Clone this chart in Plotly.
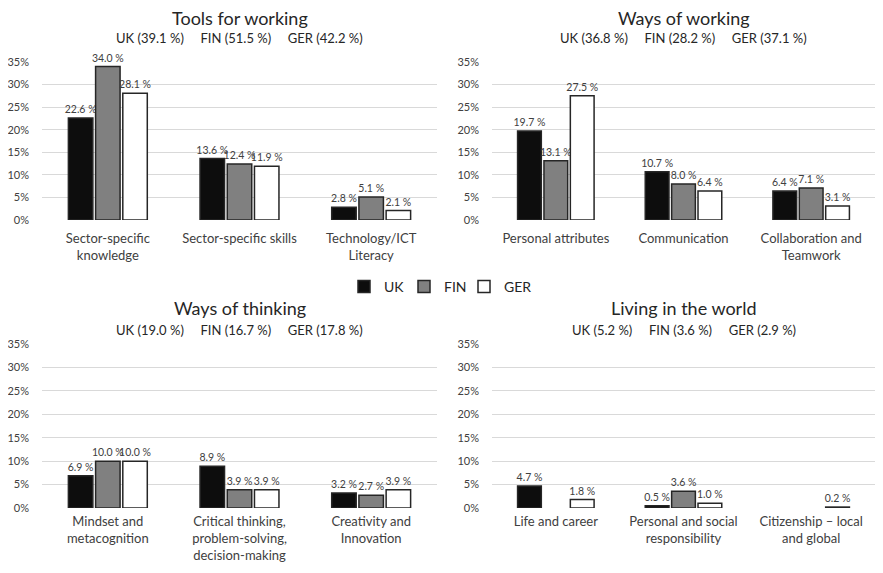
import plotly.graph_objects as go
from plotly.subplots import make_subplots

countries = ["UK", "FIN", "GER"]
colors = ["#0d0d0d", "#808080", "#ffffff"]

panel_titles = ["Tools for working", "Ways of working", "Ways of thinking", "Living in the world"]
panel_totals = [
    [39.1, 51.5, 42.2],
    [36.8, 28.2, 37.1],
    [19.0, 16.7, 17.8],
    [5.2, 3.6, 2.9],
]
panel_cats = [
    ["Sector-specific<br>knowledge", "Sector-specific skills", "Technology/ICT<br>Literacy"],
    ["Personal attributes", "Communication", "Collaboration and<br>Teamwork"],
    ["Mindset and<br>metacognition", "Critical thinking,<br>problem-solving,<br>decision-making", "Creativity and<br>Innovation"],
    ["Life and career", "Personal and social<br>responsibility", "Citizenship – local<br>and global"],
]
# values per panel: [UK, FIN, GER] per category; None = no bar
uk_vals = [
    [22.6, 13.6, 2.8],
    [19.7, 10.7, 6.4],
    [6.9, 8.9, 3.2],
    [4.7, 0.5, None],
]
fin_vals = [
    [34.0, 12.4, 5.1],
    [13.1, 8.0, 7.1],
    [10.0, 3.9, 2.7],
    [None, 3.6, None],
]
ger_vals = [
    [28.1, 11.9, 2.1],
    [27.5, 6.4, 3.1],
    [10.0, 3.9, 3.9],
    [1.8, 1.0, 0.2],
]
y_ticks = [0, 5, 10, 15, 20, 25, 30, 35]

FONT = "Lato"
# page has an 8px body margin, so size the figure to fit inside the window
OFF = 8
W, H = 883 - 2 * OFF, 573 - 2 * OFF


def px(x):
    return min(1.0, max(0.0, (x - OFF) / W))


def py(y):
    return min(1.0, max(0.0, 1 - (y - OFF) / H))


fig = make_subplots(rows=2, cols=2)

xdomains = [[px(42), px(437)], [px(492), px(875)], [px(42), px(437)], [px(492), px(875)]]
ydomains = [[py(220), py(62)], [py(220), py(62)], [py(508), py(344)], [py(508), py(344)]]
title_y = [py(18), py(18), py(308), py(308)]
sub_y = [py(38), py(38), py(330), py(330)]
xlabel_standoff = [9, 9, 4, 4]
legend_names = ["legend", "legend2", "legend3"]
legend_x = [344, 404, 464]

series = [uk_vals, fin_vals, ger_vals]
for p in range(4):
    r, c = p // 2 + 1, p % 2 + 1
    for s, name in enumerate(countries):
        vals = series[s][p]
        fig.add_trace(go.Bar(
            x=panel_cats[p], y=vals, name=name,
            marker=dict(color=colors[s], line=dict(color="#262626", width=1.5)),
            text=[f"{v:.1f}\u00a0%" if v else "" for v in vals],
            textposition="outside", cliponaxis=False, constraintext="none",
            textfont=dict(family=FONT, size=10.5, color="#404040"),
            showlegend=(p == 0), legend=legend_names[s],
        ), row=r, col=c)

    ax = "" if p == 0 else str(p + 1)
    fig.layout["xaxis" + ax].update(domain=xdomains[p], tickfont=dict(family=FONT, size=13, color="#404040"),
                                    showline=False, ticks="", automargin=False,
                                    ticklabelstandoff=xlabel_standoff[p])
    fig.layout["yaxis" + ax].update(domain=ydomains[p], range=[0, 35], tickvals=y_ticks,
                                    ticktext=[f"{t}%" for t in y_ticks],
                                    tickfont=dict(family=FONT, size=11, color="#404040"),
                                    gridcolor="#d9d9d9", gridwidth=1, zeroline=False, showline=False,
                                    automargin=False, ticklabelstandoff=12)
    cx = sum(xdomains[p]) / 2
    fig.add_annotation(x=cx, y=title_y[p], xref="paper", yref="paper", showarrow=False,
                       xanchor="center", yanchor="middle",
                       text=panel_titles[p], font=dict(family=FONT, size=18, color="#262626"))
    t = panel_totals[p]
    sub = "\u00a0\u00a0\u00a0\u00a0\u00a0".join(f"{n} ({v:.1f}\u00a0%)" for n, v in zip(countries, t))
    fig.add_annotation(x=cx, y=sub_y[p], xref="paper", yref="paper", showarrow=False,
                       xanchor="center", yanchor="middle",
                       text=sub, font=dict(family=FONT, size=13, color="#262626"))

legend_style = dict(orientation="h", xanchor="left", y=py(287), yanchor="middle",
                    font=dict(family=FONT, size=14, color="#262626"), itemwidth=30,
                    bgcolor="rgba(0,0,0,0)")
fig.update_layout(
    width=W, height=H,
    margin=dict(l=0, r=0, t=0, b=0, autoexpand=False),
    plot_bgcolor="white", paper_bgcolor="white",
    barmode="group", bargap=0.38, bargroupgap=0.1,
    legend=dict(x=px(legend_x[0]), **legend_style),
    legend2=dict(x=px(legend_x[1]), **legend_style),
    legend3=dict(x=px(legend_x[2]), **legend_style),
    font=dict(family=FONT),
)

fig.write_html("out.html")
